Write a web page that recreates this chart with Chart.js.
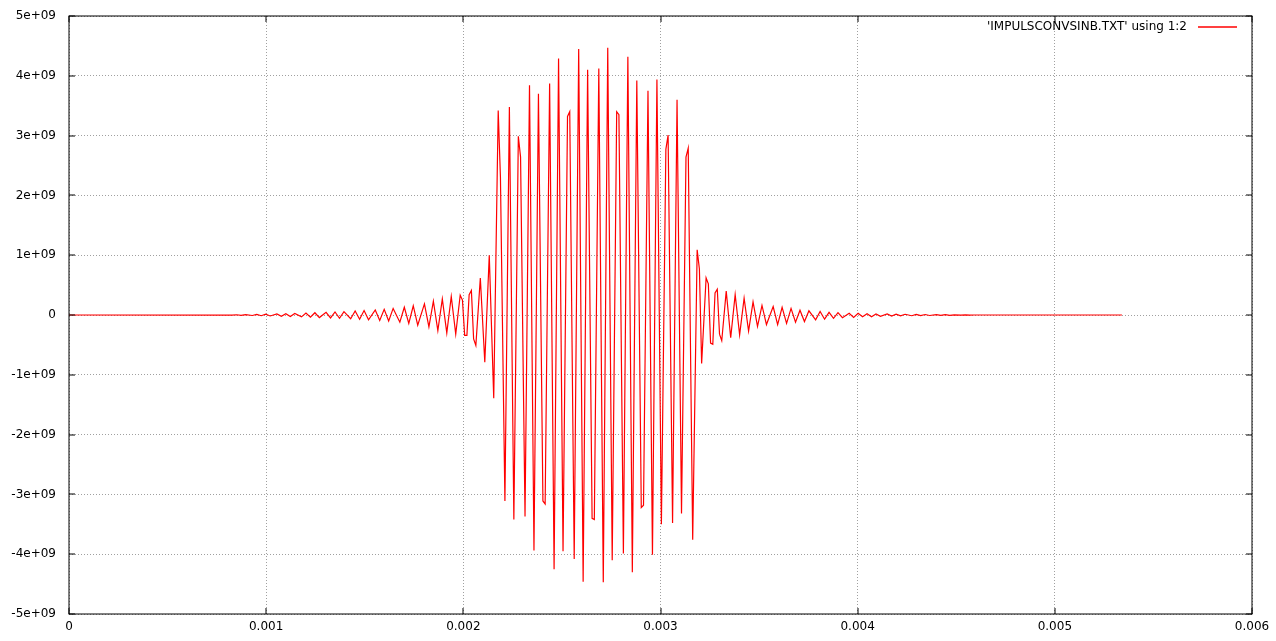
<!DOCTYPE html>
<html lang="en">
<head>
<meta charset="UTF-8">
<title>IMPULSCONVSINB.TXT</title>
<script src="https://cdn.jsdelivr.net/npm/chart.js"></script>
<style>
  html, body { margin: 0; padding: 0; background: #fff; }
</style>
</head>
<body>
<canvas id="grafico" width="1276" height="641"></canvas>
<script>

// sample rate of the file and the samples (only the corners of the trace)
const sampleRate = 88200;

const sampleIndex = [
  0, 73, 75, 77, 79, 82, 84, 86, 88, 90, 93, 95, 97, 99, 101, 104, 106, 108, 110, 112,
  115, 117, 119, 121, 123, 126, 128, 130, 132, 134, 137, 139, 141, 143, 145, 148, 150, 152, 154, 156,
  159, 161, 163, 165, 167, 169, 171, 173, 175, 176, 177, 178, 179, 180, 181, 182, 184, 186, 188, 190,
  192, 193, 195, 197, 199, 201, 202, 204, 206, 208, 210, 212, 213, 215, 217, 219, 221, 223, 224, 226,
  228, 230, 232, 234, 235, 237, 239, 241, 243, 245, 246, 248, 250, 252, 254, 256, 257, 259, 261, 263,
  265, 267, 268, 270, 272, 274, 276, 277, 279, 281, 282, 283, 285, 286, 287, 288, 289, 290, 291, 292,
  294, 296, 298, 300, 302, 304, 306, 308, 310, 312, 315, 317, 319, 321, 323, 325, 327, 329, 331, 334,
  336, 338, 340, 342, 344, 346, 349, 351, 353, 355, 357, 359, 361, 363, 366, 368, 370, 372, 374, 377,
  379, 381, 383, 385, 388, 390, 392, 394, 396, 399, 401, 403, 405, 471
];

// amplitude in units of 1e9
const amplitudeE9 = [
  0, -0.003, 0.004, -0.005, 0.007, -0.008, 0.010, -0.012, 0.014, -0.016, 0.018, -0.021, 0.022, -0.025, 0.026, -0.031, 0.032, -0.037, 0.038, -0.043,
  0.044, -0.049, 0.050, -0.055, 0.057, -0.062, 0.066, -0.070, 0.075, -0.080, 0.085, -0.090, 0.095, -0.100, 0.110, -0.120, 0.130, -0.140, 0.155, -0.170,
  0.185, -0.200, 0.230, -0.260, 0.270, -0.300, 0.310, -0.320, 0.330, 0.250, -0.340, -0.340, 0.340, 0.410, -0.400, -0.510, 0.620, -0.790, 1.000, -1.390,
  3.420, 2.300, -3.110, 3.480, -3.420, 2.990, 2.640, -3.370, 3.840, -3.940, 3.700, -3.110, -3.160, 3.870, -4.250, 4.290, -3.950, 3.320, 3.400, -4.080,
  4.450, -4.460, 4.100, -3.400, -3.420, 4.120, -4.470, 4.470, -4.100, 3.400, 3.350, -3.990, 4.320, -4.300, 3.920, -3.220, -3.180, 3.750, -4.010, 3.940,
  -3.500, 2.770, 3.010, -3.480, 3.600, -3.320, 2.640, 2.790, -3.760, 1.090, 0.770, -0.810, 0.620, 0.520, -0.470, -0.490, 0.370, 0.430, -0.320, -0.430,
  0.400, -0.380, 0.340, -0.330, 0.280, -0.270, 0.220, -0.190, 0.160, -0.160, 0.140, -0.160, 0.130, -0.140, 0.110, -0.120, 0.080, -0.110, 0.070, -0.080,
  0.060, -0.070, 0.045, -0.055, 0.040, -0.045, 0.030, -0.040, 0.030, -0.030, 0.022, -0.028, 0.017, -0.022, 0.017, -0.017, 0.015, -0.015, 0.012, -0.012,
  0.010, -0.010, 0.008, -0.008, 0.006, -0.006, 0.005, -0.005, 0.003, -0.003, 0.002, -0.002, 0, 0
];

const xTickValues = [0, 0.001, 0.002, 0.003, 0.004, 0.005, 0.006];
const xTickLabels = ['0', '0.001', '0.002', '0.003', '0.004', '0.005', '0.006'];
const yTickValues = [-5e9, -4e9, -3e9, -2e9, -1e9, 0, 1e9, 2e9, 3e9, 4e9, 5e9];
const yTickLabels = ['-5e+09', '-4e+09', '-3e+09', '-2e+09', '-1e+09', '0', '1e+09', '2e+09', '3e+09', '4e+09', '5e+09'];

const serieLabel = "'IMPULSCONVSINB.TXT' using 1:2";

const fuente = { family: 'DejaVu Sans', size: 12 };

// puntos x/y
const puntos = sampleIndex.map((n, i) => ({ x: n / sampleRate, y: amplitudeE9[i] * 1e9 }));

// marco negro, ticks hacia dentro y leyenda estilo gnuplot
const marcoGnuplot = {
  id: 'marcoGnuplot',
  afterDraw(chart) {
    const ctx = chart.ctx;
    const a = chart.chartArea;
    const sx = chart.scales.x, sy = chart.scales.y;
    const tic = 6;
    ctx.save();
    ctx.strokeStyle = '#000';
    ctx.lineWidth = 1;
    ctx.setLineDash([]);
    ctx.beginPath();
    xTickValues.forEach(v => {
      const px = Math.round(sx.getPixelForValue(v));
      ctx.moveTo(px, a.bottom); ctx.lineTo(px, a.bottom - tic);
      ctx.moveTo(px, a.top); ctx.lineTo(px, a.top + tic);
    });
    yTickValues.forEach(v => {
      const py = Math.round(sy.getPixelForValue(v));
      ctx.moveTo(a.left, py); ctx.lineTo(a.left + tic, py);
      ctx.moveTo(a.right, py); ctx.lineTo(a.right - tic, py);
    });
    ctx.stroke();
    ctx.strokeRect(Math.round(a.left), Math.round(a.top), Math.round(a.right - a.left), Math.round(a.bottom - a.top));

    // leyenda
    ctx.font = '12px "DejaVu Sans"';
    ctx.fillStyle = '#000';
    ctx.textAlign = 'right';
    ctx.textBaseline = 'middle';
    ctx.fillText(chart.data.datasets[0].label, 1187, 27);
    ctx.strokeStyle = '#ff0000';
    ctx.lineWidth = 1.5;
    ctx.beginPath();
    ctx.moveTo(1198, 27); ctx.lineTo(1237, 27);
    ctx.stroke();
    ctx.restore();
  }
};

new Chart(document.getElementById('grafico'), {
  type: 'line',
  data: {
    datasets: [{
      label: serieLabel,
      data: puntos,
      borderColor: '#ff0000',
      borderWidth: 1.2,
      pointRadius: 0,
      tension: 0,
      fill: false
    }]
  },
  options: {
    responsive: false,
    animation: false,
    devicePixelRatio: 1,
    layout: { padding: { top: 16, right: 24, left: 0, bottom: 0 } },
    plugins: { legend: { display: false }, tooltip: { enabled: false } },
    scales: {
      x: {
        type: 'linear',
        min: 0,
        max: 0.006,
        afterBuildTicks: s => { s.ticks = xTickValues.map(v => ({ value: v })); },
        afterFit: s => { s.height = 27; s.paddingLeft = 0; s.paddingRight = 0; },
        ticks: { callback: (v, i) => xTickLabels[i], font: fuente, color: '#000', padding: 6, maxRotation: 0, autoSkip: false },
        grid: { color: '#a0a0a0', lineWidth: 1, drawTicks: false },
        border: { display: false, dash: [1, 2] }
      },
      y: {
        type: 'linear',
        min: -5e9,
        max: 5e9,
        afterBuildTicks: s => { s.ticks = yTickValues.map(v => ({ value: v })); },
        afterFit: s => { s.width = 69; s.paddingTop = 0; s.paddingBottom = 0; },
        ticks: { callback: (v, i) => yTickLabels[i], font: fuente, color: '#000', padding: 13 },
        grid: { color: '#a0a0a0', lineWidth: 1, drawTicks: false },
        border: { display: false, dash: [1, 2] }
      }
    }
  },
  plugins: [marcoGnuplot]
});

</script>
</body>
</html>
